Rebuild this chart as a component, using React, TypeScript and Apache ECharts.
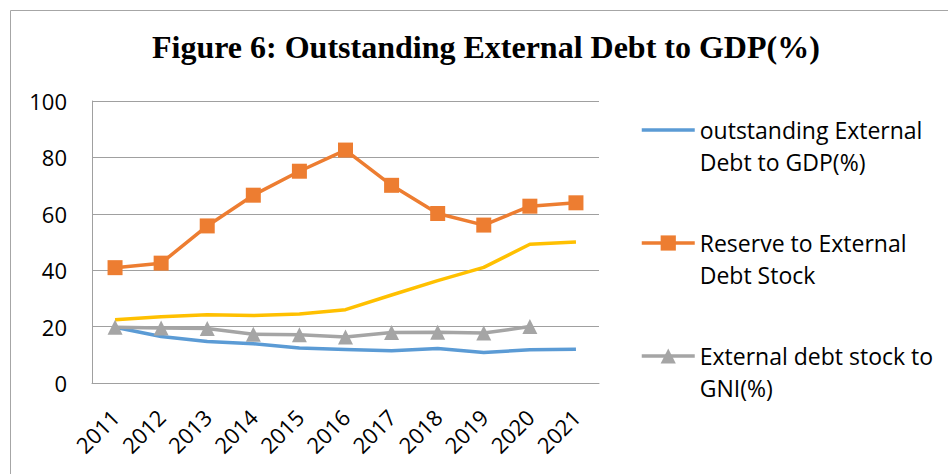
import React, { useEffect, useRef } from "react";
import * as echarts from "echarts";

const years = ["2011", "2012", "2013", "2014", "2015", "2016", "2017", "2018", "2019", "2020", "2021"];
const debtToGdp = [19.8, 16.5, 14.7, 13.9, 12.4, 11.9, 11.4, 12.2, 10.8, 11.8, 12.0];
const reserveToDebt = [40.9, 42.5, 55.7, 66.6, 75.1, 82.6, 70.1, 60.1, 56.0, 62.7, 63.9];
const debtToGni = [19.8, 19.5, 19.3, 17.3, 17.1, 16.3, 17.9, 18.0, 17.7, 20.0, null];
const series4 = [22.4, 23.5, 24.2, 23.9, 24.5, 26.0, 31.2, 36.3, 41.0, 49.2, 50.0];
const yTicks = { min: 0, max: 100, interval: 20 };

const names = [
  "outstanding External Debt to GDP(%)",
  "Reserve to External Debt Stock",
  "External debt stock to GNI(%)",
];
const legendLabels: Record<string, string> = {
  [names[0]]: "\noutstanding External\nDebt to GDP(%)",
  [names[1]]: "\nReserve to External\nDebt Stock",
  [names[2]]: "\nExternal debt stock to\nGNI(%)",
};

export default function App() {
  const ref = useRef<HTMLDivElement>(null);
  useEffect(() => {
    document.body.style.margin = "0";
    if (!ref.current) return;
    const chart = echarts.init(ref.current, null, { renderer: "svg" });
    const gridColor = "#a0a0a0";
    chart.setOption({
      animation: false,
      backgroundColor: "#fff",
      title: {
        text: "Figure 6: Outstanding External Debt to GDP(%)",
        left: 152,
        top: 31,
        padding: 0,
        textStyle: {
          fontFamily: "'Liberation Serif', 'Times New Roman', serif",
          fontWeight: "bold",
          fontSize: 32,
          color: "#000",
        },
      },
      graphic: [
        {
          type: "rect",
          silent: true,
          z: -10,
          shape: { x: 10.5, y: 10.5, width: 1000, height: 1000 },
          style: { fill: "none", stroke: "#a6a6a6", lineWidth: 1 },
        },
      ],
      grid: { left: 92, right: 349, top: 101, bottom: 91 },
      legend: {
        data: [
          { name: names[0], itemStyle: { opacity: 0 } },
          { name: names[1] },
          { name: names[2] },
        ],
        orient: "vertical",
        left: 640,
        top: 82,
        padding: 0,
        itemWidth: 53,
        itemHeight: 19,
        itemGap: 17,
        lineStyle: { width: 3.5 },
        formatter: (n: string) => legendLabels[n] || n,
        textStyle: {
          fontFamily: "'Open Sans', sans-serif",
          fontSize: 23,
          color: "#000",
          lineHeight: 32,
        },
      },
      xAxis: {
        type: "category",
        data: years,
        boundaryGap: true,
        axisTick: { show: false },
        axisLine: { show: true, lineStyle: { color: gridColor, width: 1 } },
        axisLabel: {
          rotate: 45,
          margin: 30,
          fontFamily: "'Open Sans', sans-serif",
          fontSize: 22,
          color: "#000",
          interval: 0,
        },
      },
      yAxis: {
        type: "value",
        min: yTicks.min,
        max: yTicks.max,
        interval: yTicks.interval,
        axisLine: { show: true, lineStyle: { color: gridColor, width: 1 } },
        axisTick: { show: false },
        splitLine: { show: true, lineStyle: { color: gridColor, width: 1 } },
        axisLabel: {
          margin: 25,
          fontFamily: "'Open Sans', sans-serif",
          fontSize: 22,
          color: "#000",
        },
      },
      series: [
        {
          name: names[0],
          type: "line",
          data: debtToGdp,
          symbol: "none",
          color: "#5B9BD5",
          lineStyle: { width: 3.5, color: "#5B9BD5" },
        },
        {
          name: names[1],
          type: "line",
          data: reserveToDebt,
          symbol: "rect",
          symbolSize: 15,
          color: "#ED7D31",
          itemStyle: { color: "#ED7D31" },
          lineStyle: { width: 3.5, color: "#ED7D31" },
        },
        {
          name: names[2],
          type: "line",
          data: debtToGni,
          symbol: "triangle",
          symbolSize: 15,
          color: "#A5A5A5",
          itemStyle: { color: "#A5A5A5" },
          lineStyle: { width: 3.5, color: "#A5A5A5" },
        },
        {
          name: "series4",
          type: "line",
          data: series4,
          symbol: "none",
          color: "#FFC000",
          lineStyle: { width: 3.5, color: "#FFC000" },
        },
      ],
    });
    return () => chart.dispose();
  }, []);
  return <div ref={ref} style={{ width: 948, height: 474 }} />;
}
